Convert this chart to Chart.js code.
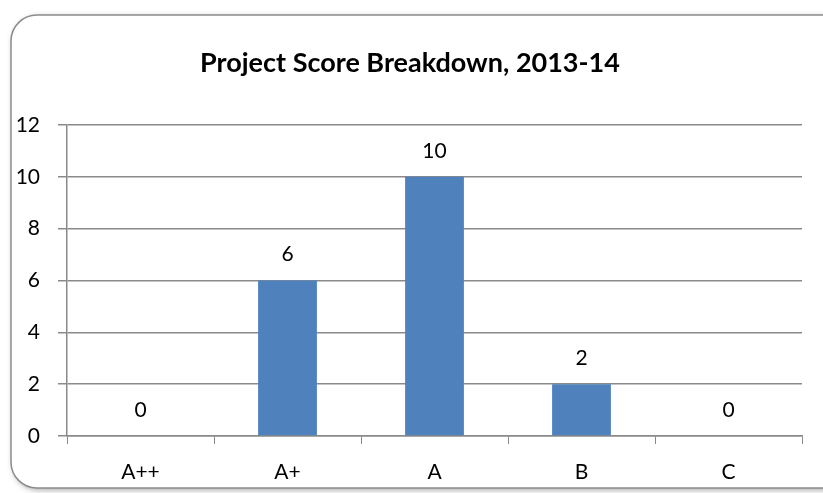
<!DOCTYPE html>
<html>
<head>
<meta charset="utf-8">
<style>
  html, body { margin: 0; padding: 0; background: #fff; }
  #wrap { width: 823px; height: 493px; position: relative; }
</style>
<script src="https://cdn.jsdelivr.net/npm/chart.js@4/dist/chart.umd.min.js"></script>
</head>
<body>
<div id="wrap"><canvas id="score-canvas" width="823" height="493"></canvas></div>
<script>
const categories = ['A++', 'A+', 'A', 'B', 'C'];
const scores = [0, 6, 10, 2, 0];
const yTicks = [0, 2, 4, 6, 8, 10, 12];
const title = 'Project Score Breakdown, 2013-14';

const FONT = 'Lato, "Open Sans", sans-serif';
const GRID = '#8a8a8a';

// rounded frame with soft shadow, like the office chart box
const framePlugin = {
    id: 'frame',
    beforeDraw(chart) {
        const c = chart.ctx;
        c.save();
        c.fillStyle = '#fff';
        c.fillRect(0, 0, chart.width, chart.height);
        c.shadowColor = 'rgba(0,0,0,0.35)';
        c.shadowBlur = 6;
        c.shadowOffsetX = 2;
        c.shadowOffsetY = 2;
        c.beginPath();
        c.roundRect(11, 15, 840, 473, 26);
        c.fillStyle = '#fff';
        c.fill();
        c.shadowColor = 'transparent';
        c.lineWidth = 1.5;
        c.strokeStyle = '#8c8c8c';
        c.stroke();
        // title, centred on the whole box rather than the plot
        c.font = 'bold 27px ' + FONT;
        c.fillStyle = '#000';
        c.textAlign = 'center';
        c.textBaseline = 'middle';
        c.fillText(title, 410, 63);
        c.restore();
    }
};

// value labels above each bar
const valuePlugin = {
    id: 'values',
    afterDatasetsDraw(chart) {
        const c = chart.ctx;
        const meta = chart.getDatasetMeta(0);
        c.save();
        c.font = '21px ' + FONT;
        c.fillStyle = '#000';
        c.textAlign = 'center';
        c.textBaseline = 'middle';
        meta.data.forEach(function (bar, i) {
            c.fillText(String(scores[i]), bar.x, bar.y - 26);
        });
        c.restore();
    }
};

new Chart(document.getElementById('score-canvas'), {
    type: 'bar',
    data: {
        labels: categories,
        datasets: [{
            data: scores,
            backgroundColor: '#4F81BD',
            borderWidth: 0,
            categoryPercentage: 1,
            barPercentage: 0.4
        }]
    },
    plugins: [framePlugin, valuePlugin],
    options: {
        responsive: false,
        animation: false,
        layout: { padding: { top: 125, right: 21, bottom: 0, left: 0 } },
        plugins: {
            legend: { display: false },
            tooltip: { enabled: false },
            title: { display: false }
        },
        scales: {
            x: {
                offset: true,
                grid: {
                    offset: true,
                    drawOnChartArea: false,
                    drawTicks: true,
                    tickLength: 8,
                    color: GRID
                },
                border: { color: GRID, width: 1.5 },
                ticks: {
                    color: '#000',
                    padding: 16,
                    font: { family: FONT, size: 21 }
                },
                afterFit(scale) { scale.height = 57; }
            },
            y: {
                min: 0,
                max: 12,
                afterBuildTicks(scale) {
                    scale.ticks = yTicks.map(function (v) { return { value: v }; });
                },
                grid: {
                    color: GRID,
                    lineWidth: 1.5,
                    tickLength: 9
                },
                border: { color: GRID, width: 1.5 },
                ticks: {
                    color: '#000',
                    padding: 18,
                    font: { family: FONT, size: 21 }
                },
                afterFit(scale) { scale.width = 67; }
            }
        }
    }
});
</script>
</body>
</html>
